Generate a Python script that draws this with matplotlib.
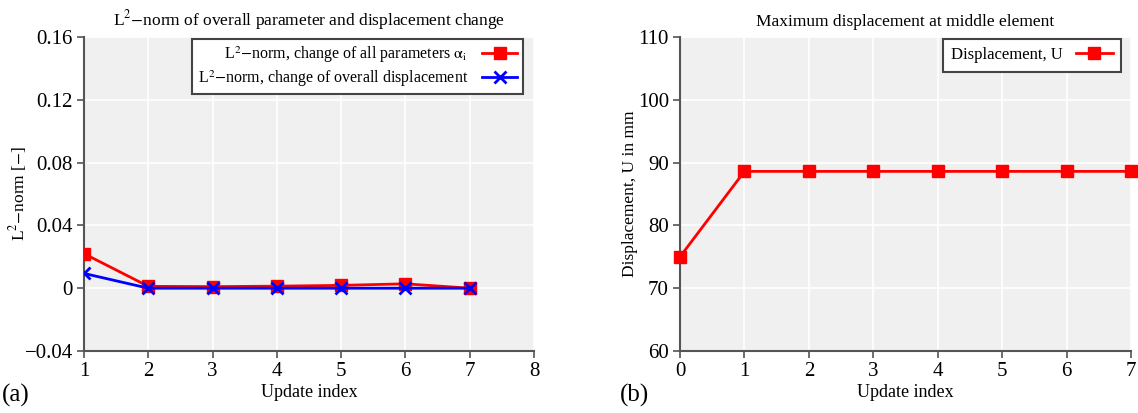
import matplotlib
matplotlib.use("Agg")
import matplotlib.pyplot as plt
from matplotlib.ticker import FuncFormatter

plt.rcParams['font.family'] = ['Liberation Serif', 'DejaVu Serif']
plt.rcParams['mathtext.fontset'] = 'stix'

# Data
upd_a = [1, 2, 3, 4, 5, 6, 7]
norm_params = [0.022, 0.0012, 0.0010, 0.0013, 0.0018, 0.0028, 0.0]
norm_disp = [0.0094, 0.0, 0.0, 0.0, 0.0, 0.0, 0.0]
upd_b = [0, 1, 2, 3, 4, 5, 6, 7]
displacement = [75.0, 88.6, 88.6, 88.6, 88.6, 88.6, 88.6, 88.6]

fig = plt.figure(figsize=(11.38, 4.13), dpi=100)
ax1 = fig.add_axes([84/1138, 62/413, 450/1138, 314/413])
ax2 = fig.add_axes([680/1138, 62/413, 451/1138, 314/413])

spine_c = '#555555'
for ax in (ax1, ax2):
    ax.set_facecolor('#f0f0f0')
    ax.grid(True, color='white', linewidth=1.2)
    ax.set_axisbelow(True)
    for s in ('top', 'right'):
        ax.spines[s].set_visible(False)
    for s in ('left', 'bottom'):
        ax.spines[s].set_color(spine_c)
        ax.spines[s].set_linewidth(1.5)
    ax.tick_params(direction='out', length=5, width=1.2, color=spine_c,
                   labelsize=15, pad=3)

# Panel (a)
ax1.plot(upd_a, norm_params, color='red', lw=2, marker='s', ms=9,
         label=r'L$^2$$-$norm, change of all parameters $\mathrm{\alpha}_\mathrm{i}$', zorder=3)
ax1.plot(upd_a, norm_disp, color='blue', lw=2, marker='x', ms=9, mew=2,
         label=r'L$^2$$-$norm, change of overall displacement', zorder=4)
ax1.set_xlim(1, 8)
ax1.set_ylim(-0.04, 0.16)
ax1.set_xticks(range(1, 9))
ax1.set_yticks([-0.04, 0, 0.04, 0.08, 0.12, 0.16])
ax1.yaxis.set_major_formatter(FuncFormatter(
    lambda v, p: '0' if abs(v) < 1e-9 else ('%.2f' % v).replace('-', '\u2212')))
ax1.set_title(r'L$^2$$-$norm of overall parameter and displacement change', fontsize=12.5, pad=8)
ax1.set_xlabel('Update index', fontsize=13, labelpad=2)
ax1.set_ylabel(r'L$^2$$-$norm [$-$]', fontsize=12.5)
ax1.yaxis.set_label_coords(-0.123, 0.5)
leg1 = ax1.legend(loc='upper right', bbox_to_anchor=(0.9756, 0.994), markerfirst=False,
                  fontsize=11.5, fancybox=False, framealpha=1, edgecolor='#444444',
                  borderpad=0.35, handlelength=2.2, labelspacing=0.2, borderaxespad=0,
                  handletextpad=0.9)
leg1.get_frame().set_linewidth(1.5)
fig.text(2/1138, 1 - 402/413, '(a)', fontsize=18, va='baseline')

# Panel (b)
ax2.plot(upd_b, displacement, color='red', lw=2, marker='s', ms=9,
         label='Displacement, U', zorder=3, clip_on=False)
ax2.set_xlim(0, 7)
ax2.set_ylim(60, 110)
ax2.set_xticks(range(0, 8))
ax2.set_yticks(range(60, 111, 10))
ax2.set_title('Maximum displacement at middle element', fontsize=12.5, pad=8)
ax2.set_xlabel('Update index', fontsize=13, labelpad=2)
ax2.set_ylabel('Displacement, U in mm', fontsize=12.5)
ax2.yaxis.set_label_coords(-0.093, 0.5)
leg2 = ax2.legend(loc='upper right', bbox_to_anchor=(0.978, 0.994), markerfirst=False,
                  fontsize=12, fancybox=False, framealpha=1, edgecolor='#444444',
                  borderpad=0.5, handlelength=2.2, borderaxespad=0, handletextpad=0.8)
leg2.get_frame().set_linewidth(1.5)
fig.text(620/1138, 1 - 402/413, '(b)', fontsize=18, va='baseline')

fig.savefig('out.png', dpi=100)
